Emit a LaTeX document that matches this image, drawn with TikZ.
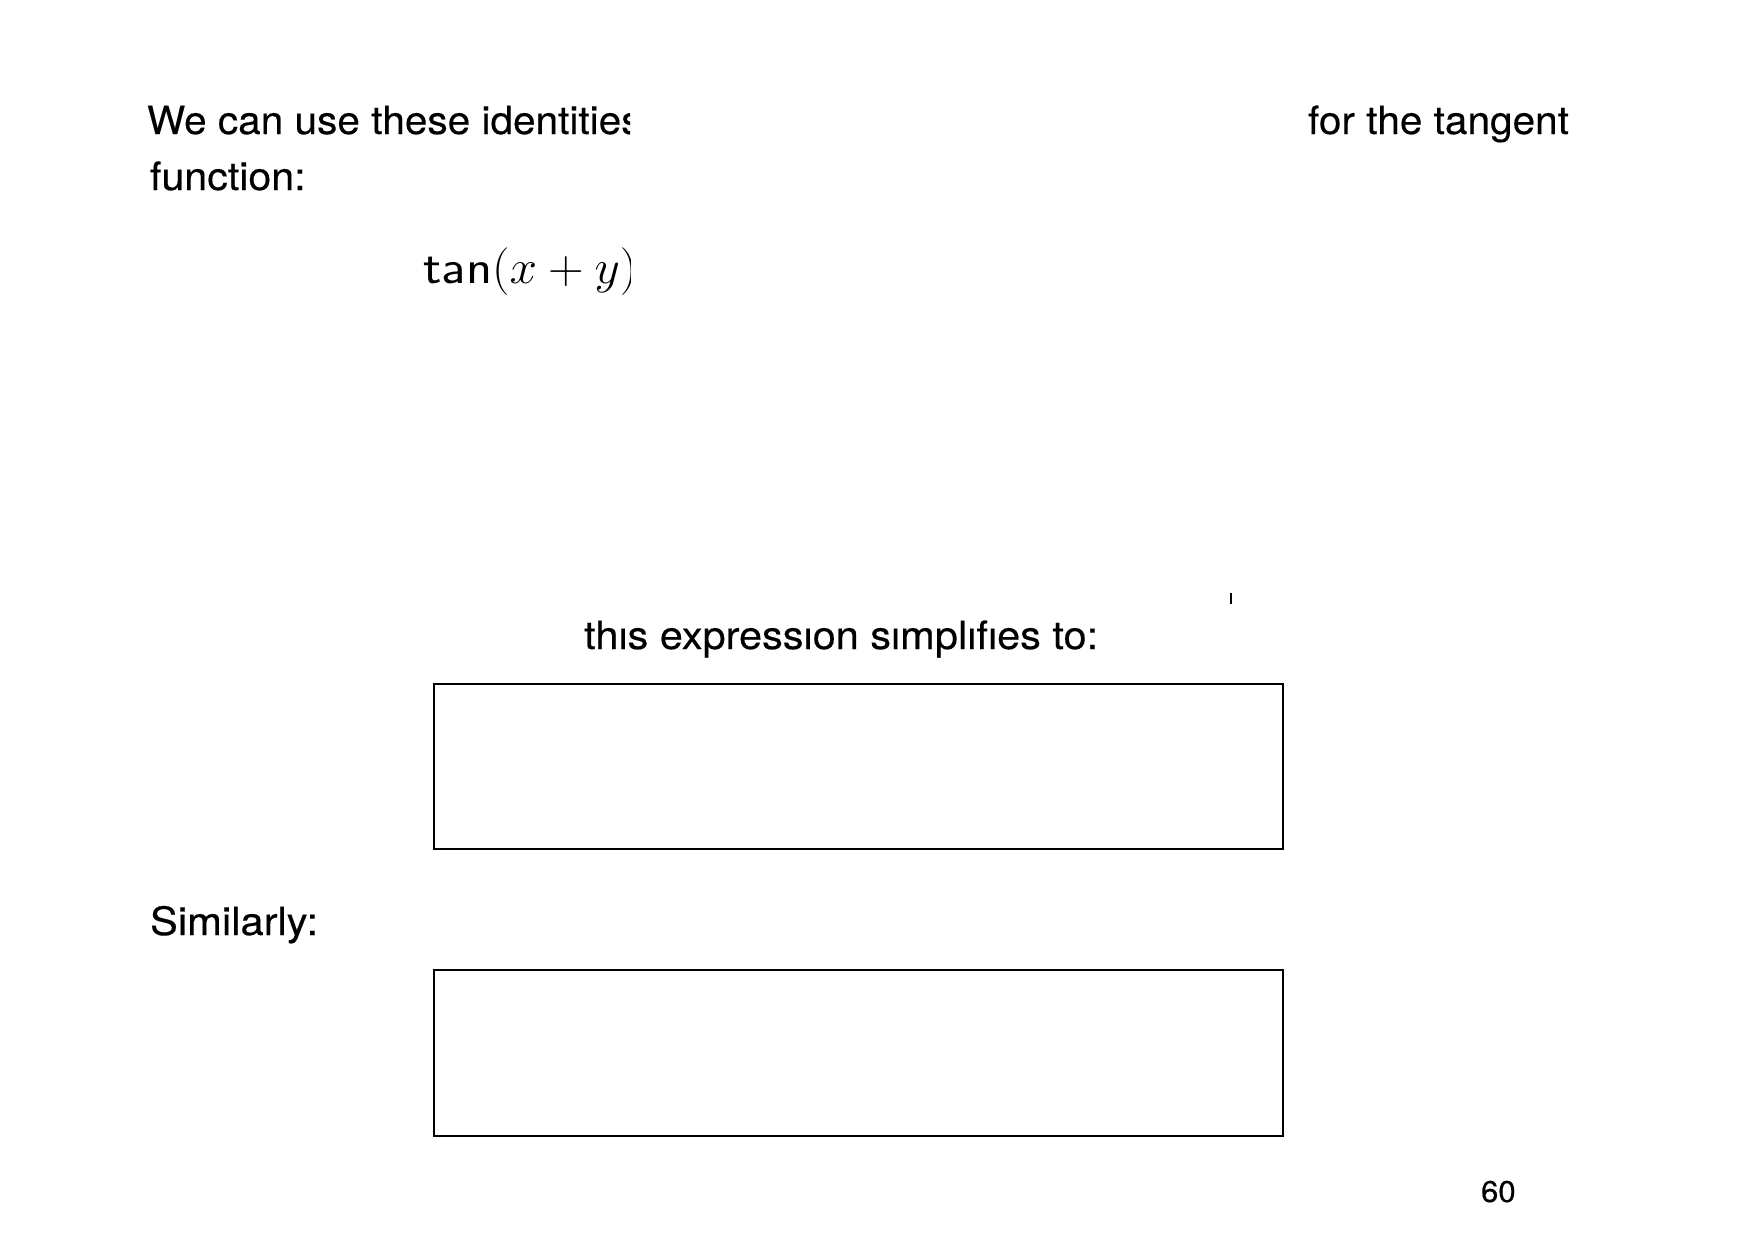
\documentclass[tikz,border=0pt]{standalone}
\usepackage{fontspec}
\setmainfont[FakeStretch=1.04, FakeBold=0.3]{TeX Gyre Heros}
\usepackage{graphicx}
\tikzset{
  txt/.style={anchor=base west, inner sep=0pt, outer sep=0pt, font=\fontsize{19.5pt}{23pt}\selectfont},
  pagenum/.style={anchor=base west, inner sep=0pt, outer sep=0pt, font=\fontsize{15pt}{18pt}\selectfont},
  answerbox/.style={draw=black, line width=1.1pt},
  tick/.style={draw=black, line width=0.7pt}
}
\begin{document}
\begin{tikzpicture}[x=0.5pt, y=-0.5pt]
\useasboundingbox (0,0) rectangle (1756,1242);
\fill[white] (0,0) rectangle (1756,1242);
\begin{scope}
  \clip (0,0) rectangle (630,1242);
  \node[txt] (l1a) at (147,134) {We can use these identities};
  \node[anchor=base west, inner sep=0pt] (tan) at (423,283)
    {\scalebox{1.30}[1.15]{\huge\textsf{tan}}\scalebox{1.19}[1.15]{\huge$(x+y)$}};
\end{scope}
\node[txt] (l1b) at (1308,134) {for the tangent};
\node[txt] (l2) at (150,190) {\scalebox{1.015}[1]{function:}};
\node[txt] (simp) at (584,649) {\scalebox{1.022}[1]{th\i s express\i on s\i mpl\i f\i es to:}};
\node[txt] (sim) at (150,935) {\scalebox{1.03}[1]{Similarly:}};
\node[pagenum] (pg) at (1481,1202) {60};
\draw[answerbox] (434,684) rectangle (1283,849);
\draw[answerbox] (434,970) rectangle (1283,1136);
\coordinate (t1) at (1231,593);
\coordinate (t2) at (1231,604);
\draw[tick] (t1) -- (t2);
\end{tikzpicture}
\end{document}
